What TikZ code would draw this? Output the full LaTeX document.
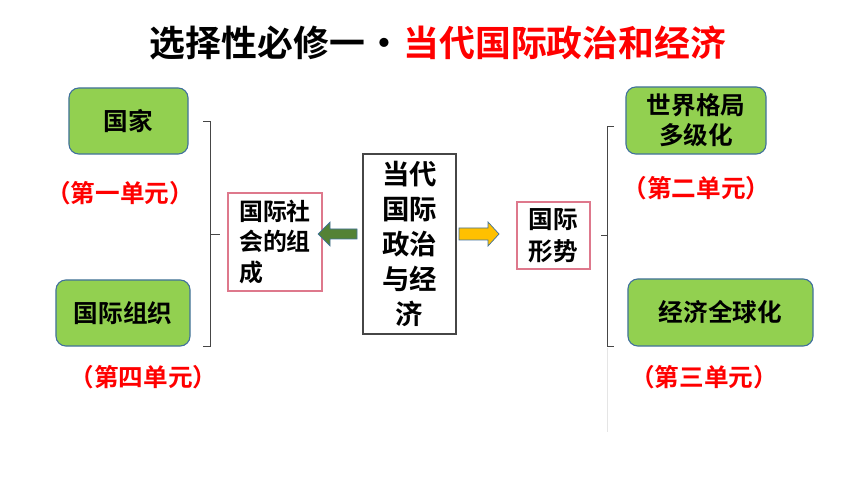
\documentclass[tikz,border=0pt]{standalone}
\usepackage{fontspec}
\usepackage{xcolor}
\usepackage{tikz}
\setmainfont{Noto Sans CJK SC}[BoldFont={Noto Sans CJK SC Bold}]
\definecolor{leaf}{RGB}{146,208,80}
\definecolor{steel}{RGB}{65,113,156}
\definecolor{moss}{RGB}{84,130,53}
\definecolor{amber}{RGB}{255,192,0}
\definecolor{rose}{RGB}{222,120,140}
\definecolor{ink}{RGB}{70,70,70}
\definecolor{unitred}{RGB}{255,0,0}

\begin{document}
\begin{tikzpicture}[
  x=0.025cm, y=-0.025cm,
  font=\bfseries,
  topic/.style={draw=steel, fill=leaf, line width=0.8pt, rounded corners=7pt, align=center,
                inner sep=0pt, font=\fontsize{17.5}{21.5}\selectfont\bfseries},
  plain/.style={draw=rose, line width=0.8pt, align=left, inner sep=0pt,
                font=\fontsize{17}{21.5}\selectfont\bfseries},
  unit/.style={text=unitred, font=\fontsize{17.5}{20}\selectfont\bfseries},
  brace/.style={draw=ink, line width=0.7pt},
  blockarrow/.style={draw=steel, line width=0.5pt},
]
  \useasboundingbox (0,0) rectangle (860,484);

  % Title
  \node[font=\fontsize{25.5}{30}\selectfont\bfseries] (heading) at (438,43)
    {选择性必修一\hspace{1pt}·\hspace{1pt}{\color{unitred}当代国际政治和经济}};

  % Left side: the members of international society
  \node[topic, minimum width=2.975cm, minimum height=1.65cm] (nation) at (128.5,121) {国家};
  \node[unit] (unit1) at (120,193) {（第一单元）};
  \node[topic, minimum width=3.35cm, minimum height=1.65cm] (igo) at (123,313) {国际组织};
  \node[unit] (unit4) at (143.5,377) {（第四单元）};

  \draw[brace] (203,121) -- (210,121) -- (210,346) -- (203,346);
  \draw[brace] (210,234) -- (220,234);

  \node[plain, minimum width=2.35cm, minimum height=2.45cm] (society) at (275,242)
    {国际社\\会的组\\成};

  % Centre
  \node[draw=ink, line width=0.8pt, align=center, inner sep=0pt,
        minimum width=2.325cm, minimum height=4.5cm,
        font=\fontsize{19.5}{25}\selectfont\bfseries] (core) at (409.5,244)
    {当代\\国际\\政治\\与经\\济};

  \filldraw[blockarrow, fill=moss] (318,234) -- (330,222) -- (330,229) -- (357,229)
    -- (357,239) -- (330,239) -- (330,246) -- cycle;
  \filldraw[blockarrow, fill=amber] (499,234) -- (488,222) -- (488,228) -- (459,228)
    -- (459,240) -- (488,240) -- (488,246) -- cycle;

  % Right side: the international situation
  \node[plain, align=left, minimum width=1.825cm, minimum height=1.675cm,
        font=\fontsize{17.5}{23}\selectfont\bfseries] (situation) at (553.5,235.5)
    {国际\\形势};

  \draw[brace] (614,126) -- (607,126) -- (607,346) -- (614,346);
  \draw[brace] (601,235) -- (607,235);
  \draw[gray!20, line width=0.7pt] (607,348) -- (607,432);

  \node[topic, minimum width=3.5cm, minimum height=1.675cm] (multipolar) at (696,120.5)
    {世界格局\\多级化};
  \node[unit] (unit2) at (696.5,188) {（第二单元）};
  \node[topic, minimum width=4.625cm, minimum height=1.675cm] (globalization) at (720.5,312.5)
    {经济全球化};
  \node[unit] (unit3) at (704,377) {（第三单元）};
\end{tikzpicture}
\end{document}
